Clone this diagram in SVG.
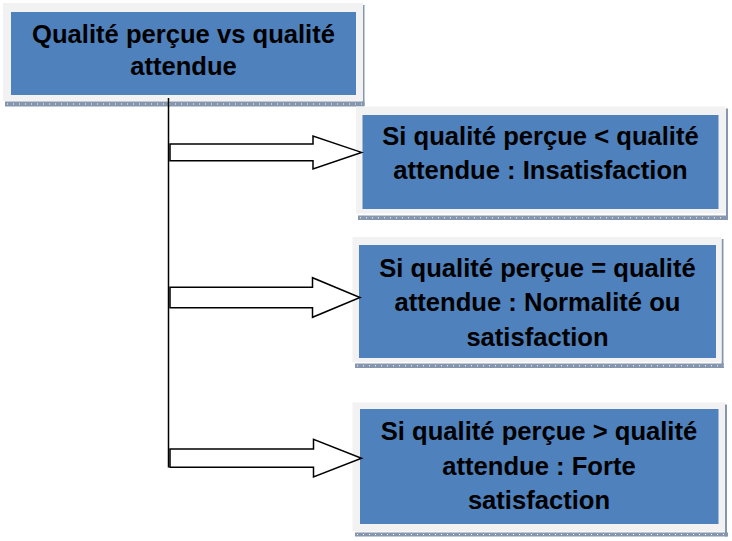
<svg xmlns="http://www.w3.org/2000/svg" width="732" height="541" viewBox="0 0 732 541">
  <defs>
    <style>
      .frame { fill: #f2f2f2; }
      .box { fill: #4f81bd; }
      .shadow { fill: #8696ae; }
      .dots { stroke: #ffffff; stroke-width: 1; stroke-dasharray: 1 5; fill: none; }
      .lbl { font-family: "Liberation Sans", Arial, sans-serif; font-weight: bold; font-size: 25.6px; fill: #000000; text-anchor: middle; }
      .arrow { fill: #ffffff; stroke: #000000; stroke-width: 1.5; stroke-linejoin: miter; }
      .trunk { stroke: #000000; stroke-width: 1.5; fill: none; }
    </style>
  </defs>
  <rect width="732" height="541" fill="#ffffff"/>

  <g id="node-main">
    <rect class="shadow" x="5" y="101.5" width="359.5" height="5"/>
    <line class="dots" x1="7" y1="104" x2="364" y2="104"/>
    <rect class="shadow" x="362.5" y="5" width="2" height="101"/>
    <rect class="frame" x="3" y="3" width="360" height="98"/>
    <rect class="box" x="11" y="12" width="345" height="83"/>
    <text class="lbl" x="183.5" y="43">Qualité perçue vs qualité</text>
    <text class="lbl" x="183.5" y="75">attendue</text>
  </g>

  <g id="node-insatisfaction">
    <rect class="shadow" x="358" y="215.5" width="370" height="4.5"/>
    <line class="dots" x1="360" y1="217.8" x2="728" y2="217.8"/>
    <rect class="shadow" x="726" y="108.5" width="2" height="111"/>
    <rect class="frame" x="356" y="106.5" width="370" height="107"/>
    <rect class="box" x="362.5" y="115" width="356" height="94"/>
    <text class="lbl" x="540.5" y="145">Si qualité perçue &lt; qualité</text>
    <text class="lbl" x="540.5" y="178.5">attendue : Insatisfaction</text>
  </g>

  <g id="node-normalite">
    <rect class="shadow" x="355" y="363.5" width="369" height="4.5"/>
    <line class="dots" x1="357" y1="365.8" x2="724" y2="365.8"/>
    <rect class="shadow" x="721.5" y="239" width="2" height="129"/>
    <rect class="frame" x="352.5" y="237" width="369" height="125"/>
    <rect class="box" x="359" y="245" width="357" height="113"/>
    <text class="lbl" x="537.5" y="276.7">Si qualité perçue = qualité</text>
    <text class="lbl" x="537.5" y="311.3">attendue : Normalité ou</text>
    <text class="lbl" x="537.5" y="346">satisfaction</text>
  </g>

  <g id="node-forte">
    <rect class="shadow" x="355" y="532.5" width="373" height="4"/>
    <line class="dots" x1="357" y1="534.5" x2="728" y2="534.5"/>
    <rect class="shadow" x="725" y="404.5" width="2" height="132"/>
    <rect class="frame" x="352.5" y="402.5" width="372.5" height="129"/>
    <rect class="box" x="360" y="409" width="358.5" height="115"/>
    <text class="lbl" x="539" y="439.5">Si qualité perçue &gt; qualité</text>
    <text class="lbl" x="539" y="474.5">attendue : Forte</text>
    <text class="lbl" x="539" y="508.5">satisfaction</text>
  </g>

  <g id="connectors">
    <line class="trunk" x1="168.5" y1="98" x2="168.5" y2="467.5"/>
    <polygon class="arrow" points="170,144 313,144 313,136 361.5,152.4 313,169 313,160.7 170,160.7"/>
    <polygon class="arrow" points="170,287.3 312.5,287.3 312.5,277.7 360,297.5 312.5,317.3 312.5,307.7 170,307.7"/>
    <polygon class="arrow" points="170,449 313.5,449 313.5,439.3 361.5,458.2 313.5,477 313.5,467.3 170,467.3"/>
  </g>
</svg>
